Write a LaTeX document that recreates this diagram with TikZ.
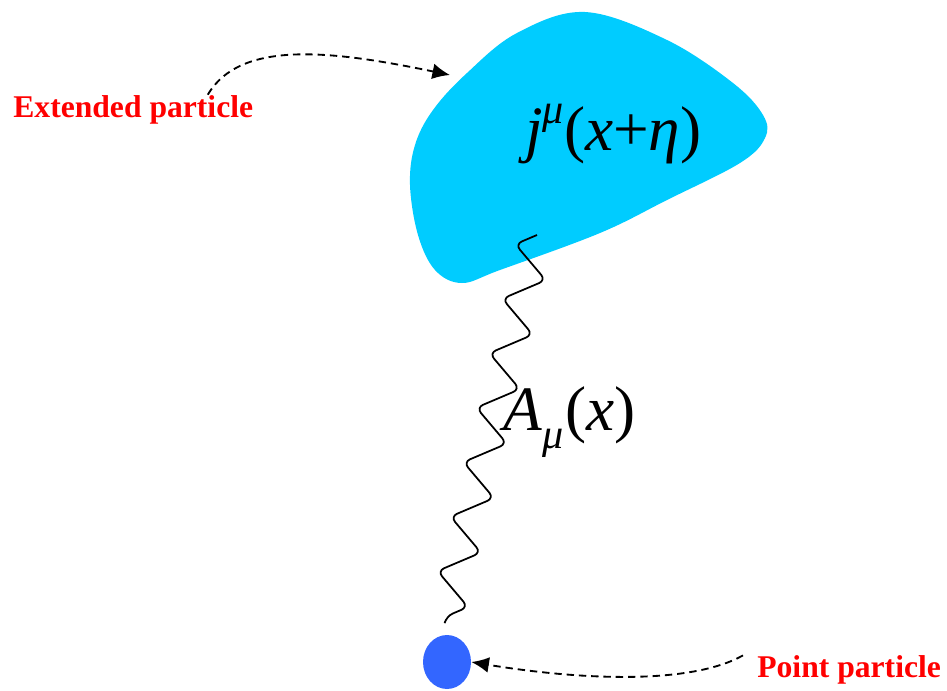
\documentclass[tikz,border=0pt]{standalone}
\usepackage{fontspec}
\setmainfont{Liberation Serif}
\usetikzlibrary{arrows.meta,calc,decorations.pathmorphing,shapes.geometric}
\definecolor{blobcyan}{HTML}{00CCFF}
\definecolor{dotblue}{HTML}{3366FF}
\definecolor{tagred}{HTML}{FF0000}

\begin{document}
\begin{tikzpicture}[
  x=0.02cm, y=-0.02cm,
  tag/.style={font=\fontsize{18}{20}\selectfont\bfseries, text=tagred, inner sep=0pt, anchor=base west},
  formula/.style={font=\fontsize{36}{40}\selectfont, inner sep=0pt, anchor=base west},
  pointer/.style={line width=1.05pt, dash pattern=on 4.2pt off 2.8pt, -{Latex[length=10pt,width=9pt]}},
  photon/.style={line width=1pt, rounded corners=4pt, decorate,
    decoration={zigzag, mirror, segment length=1.12cm, amplitude=0.38cm}},
  particle/.style={ellipse, fill=dotblue, minimum width=0.96cm, minimum height=1.08cm, inner sep=0pt},
]
  \useasboundingbox (0,0) rectangle (947,690);
  % extended particle
  \fill[blobcyan] plot[smooth cycle, tension=0.6] coordinates {
    (585,12) (667,40) (733,83) (763,115) (765,138) (740,163) (667,200) (600,233)
    (500,270) (462,283) (435,270) (418,235) (410,185) (415,145) (433,110) (467,73) (517,33)};
  \node[formula] (current) at (525,150)
    {\textit{j}\raisebox{0.42em}{\fontsize{24}{24}\selectfont\itshape μ}(\textit{x}+\textit{η})};
  \coordinate (rim) at (450,75);

  \node[particle] (point) at (447,662) {};
  \coordinate (wtop) at (537,235);
  \coordinate (wbot) at ($(point.north)+(-2,-13)$);
  \draw[photon] (wtop) -- (wbot);
  \node[formula] (field) at (503,430)
    {\textit{A}\raisebox{-0.3em}{\fontsize{24}{24}\selectfont\itshape μ}\kern1pt(\textit{x})};

  \node[tag] (extlabel) at (13,117) {Extended particle};
  \node[tag] (ptlabel) at (757,677) {Point particle};
  \draw[pointer] ($(extlabel.north west)!0.81!(extlabel.north east)$)
    .. controls (240,40) and (330,50) .. (rim);
  \draw[pointer] ([shift={(-14,-14)}]ptlabel.west)
    .. controls (690,685) and (580,680) .. (point.east);
\end{tikzpicture}
\end{document}
